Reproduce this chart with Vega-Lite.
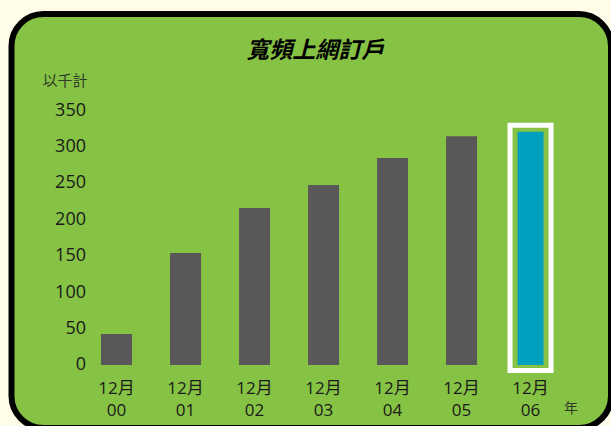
{
  "$schema": "https://vega.github.io/schema/vega-lite/v6.json",
  "width": 599.5,
  "height": 414,
  "autosize": "none",
  "padding": {"left": 11.5, "top": 14, "right": 0, "bottom": 0},
  "background": "#fffcea",
  "config": {
    "view": {"fill": "#86c244", "stroke": "#000000", "strokeWidth": 6, "cornerRadius": 32},
    "font": "Open Sans, Noto Sans CJK TC"
  },
  "title": {
    "text": "寬頻上網訂戶",
    "font": "Noto Sans CJK TC",
    "fontSize": 23,
    "fontWeight": "bold",
    "fontStyle": "italic",
    "color": "#000000",
    "anchor": "middle",
    "frame": "group",
    "offset": -49,
    "dx": 4
  },
  "data": {
    "values": [
      {"month": "12月", "year": "00", "value": 42.5},
      {"month": "12月", "year": "01", "value": 153.7},
      {"month": "12月", "year": "02", "value": 215.5},
      {"month": "12月", "year": "03", "value": 247},
      {"month": "12月", "year": "04", "value": 284},
      {"month": "12月", "year": "05", "value": 314},
      {"month": "12月", "year": "06", "value": 320}
    ]
  },
  "encoding": {
    "x": {
      "field": "year",
      "type": "ordinal",
      "sort": null,
      "scale": {"paddingInner": 0.312, "paddingOuter": 1, "align": 0.589},
      "axis": {
        "orient": "bottom",
        "offset": -48,
        "domain": false,
        "ticks": false,
        "grid": false,
        "labelAngle": 0,
        "labelPadding": 0,
        "labelFontSize": 17,
        "labelLineHeight": 22,
        "labelColor": "#1a1a1a",
        "labelBaseline": "top",
        "labelExpr": "['12月', datum.label]",
        "title": "年",
        "titleFont": "Noto Sans CJK TC",
        "titleFontSize": 14,
        "titleFontWeight": "normal",
        "titleColor": "#2f3a28",
        "titleX": 559,
        "titleY": 28,
        "titleBaseline": "middle"
      }
    },
    "y": {
      "field": "value",
      "type": "quantitative",
      "scale": {"domain": [-86.5, 481.8], "nice": false, "zero": false},
      "axis": {
        "values": [0, 50, 100, 150, 200, 250, 300, 350],
        "offset": -74,
        "domain": false,
        "ticks": false,
        "grid": false,
        "labelPadding": 0,
        "labelFontSize": 18,
        "labelColor": "#1a1a1a",
        "title": "以千計",
        "titleFont": "Noto Sans CJK TC",
        "titleFontSize": 15,
        "titleFontWeight": "normal",
        "titleColor": "#2f3a28",
        "titleAngle": 0,
        "titleAlign": "left",
        "titleBaseline": "middle",
        "titleX": -43.5,
        "titleY": 66
      }
    },
    "y2": {"datum": 0}
  },
  "layer": [
    {
      "transform": [{"filter": "datum.year != '06'"}],
      "mark": {"type": "bar", "color": "#5a5758", "width": 31}
    },
    {
      "transform": [{"filter": "datum.year == '06'"}],
      "mark": {"type": "bar", "fill": "transparent", "stroke": "#ffffff", "strokeWidth": 5, "width": 41, "yOffset": -6.5, "y2Offset": 5.5}
    },
    {
      "transform": [{"filter": "datum.year == '06'"}],
      "mark": {"type": "bar", "color": "#00a0bf", "width": 26}
    }
  ]
}
